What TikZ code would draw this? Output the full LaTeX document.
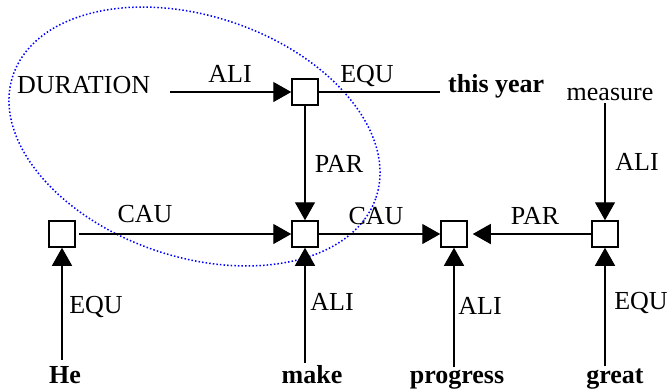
\documentclass[tikz,border=0pt]{standalone}
\usepackage{fontspec}
\setmainfont{Liberation Serif}
\usetikzlibrary{arrows.meta}
\begin{document}
\begin{tikzpicture}[x=1bp,y=-1bp,
  txt/.style={inner sep=0pt,font=\fontsize{26bp}{30bp}\selectfont},
  wrd/.style={txt,font=\fontsize{26bp}{30bp}\selectfont\bfseries},
  lbl/.style={txt},
  sq/.style={draw,line width=1.5bp,minimum size=26bp,inner sep=0pt,fill=white},
  conn/.style={line width=1.4bp},
  arr/.style={conn,-{Triangle[length=18bp,width=20bp]}},
  ell/.style={blue,line width=1.5bp,dash pattern=on 1.5bp off 2.1bp}
]
\useasboundingbox (0,0) rectangle (670,390);
% ellipse
\draw[ell] (194.5,136.5) circle[x radius=191.5bp, y radius=120.4bp, rotate=-18.6];
% boxes
\node[sq] (top) at (305,92) {};
\node[sq] (hebox) at (62,234) {};
\node[sq] (makebox) at (305,234) {};
\node[sq] (progbox) at (454,234) {};
\node[sq] (greatbox) at (605,234) {};
% words
\node[txt,anchor=base west] (dur) at (17,93) {DURATION};
\node[wrd,anchor=base west] (ty) at (448,92) {this year};
\node[txt,anchor=base] (meas) at (610,100) {measure};
\node[wrd,anchor=base] (he) at (65,383) {He};
\node[wrd,anchor=base] (make) at (312,383) {make};
\node[wrd,anchor=base] (prog) at (457,383) {progress};
\node[wrd,anchor=base] (great) at (615,383) {great};
% labels
\node[lbl,anchor=base] (l1) at (230,82) {ALI};
\node[lbl,anchor=base] (l2) at (367,82) {EQU};
\node[lbl,anchor=base] (l3) at (339,172) {PAR};
\node[lbl,anchor=base] (l4) at (637,170) {ALI};
\node[lbl,anchor=base] (l5) at (145,222) {CAU};
\node[lbl,anchor=base] (l6) at (376,224) {CAU};
\node[lbl,anchor=base] (l7) at (535,224) {PAR};
\node[lbl,anchor=base] (l8) at (96,313) {EQU};
\node[lbl,anchor=base] (l9) at (332,310) {ALI};
\node[lbl,anchor=base] (l10) at (480,314) {ALI};
\node[lbl,anchor=base] (l11) at (641,309) {EQU};
% connectors
\draw[arr,shorten <=20bp] (dur.east |- top.west) -- (top.west);
\draw[conn,shorten >=8bp] (top.east) -- (top.east -| ty.west);
\draw[arr] (top.south) -- (makebox.north);
\draw[arr,shorten <=3bp] (meas.south -| greatbox.north) -- (greatbox.north);
\draw[arr,shorten <=3bp] (hebox.east) -- (makebox.west);
\draw[arr] (makebox.east) -- (progbox.west);
\draw[arr,shorten >=5bp] (greatbox.west) -- (progbox.east);
\draw[arr,shorten <=6bp] (he.north -| hebox.south) -- (hebox.south);
\draw[arr,shorten <=2bp] (make.north -| makebox.south) -- (makebox.south);
\draw[arr,shorten <=2bp] (prog.north -| progbox.south) -- (progbox.south);
\draw[arr,shorten <=2bp] (great.north -| greatbox.south) -- (greatbox.south);
\end{tikzpicture}
\end{document}
